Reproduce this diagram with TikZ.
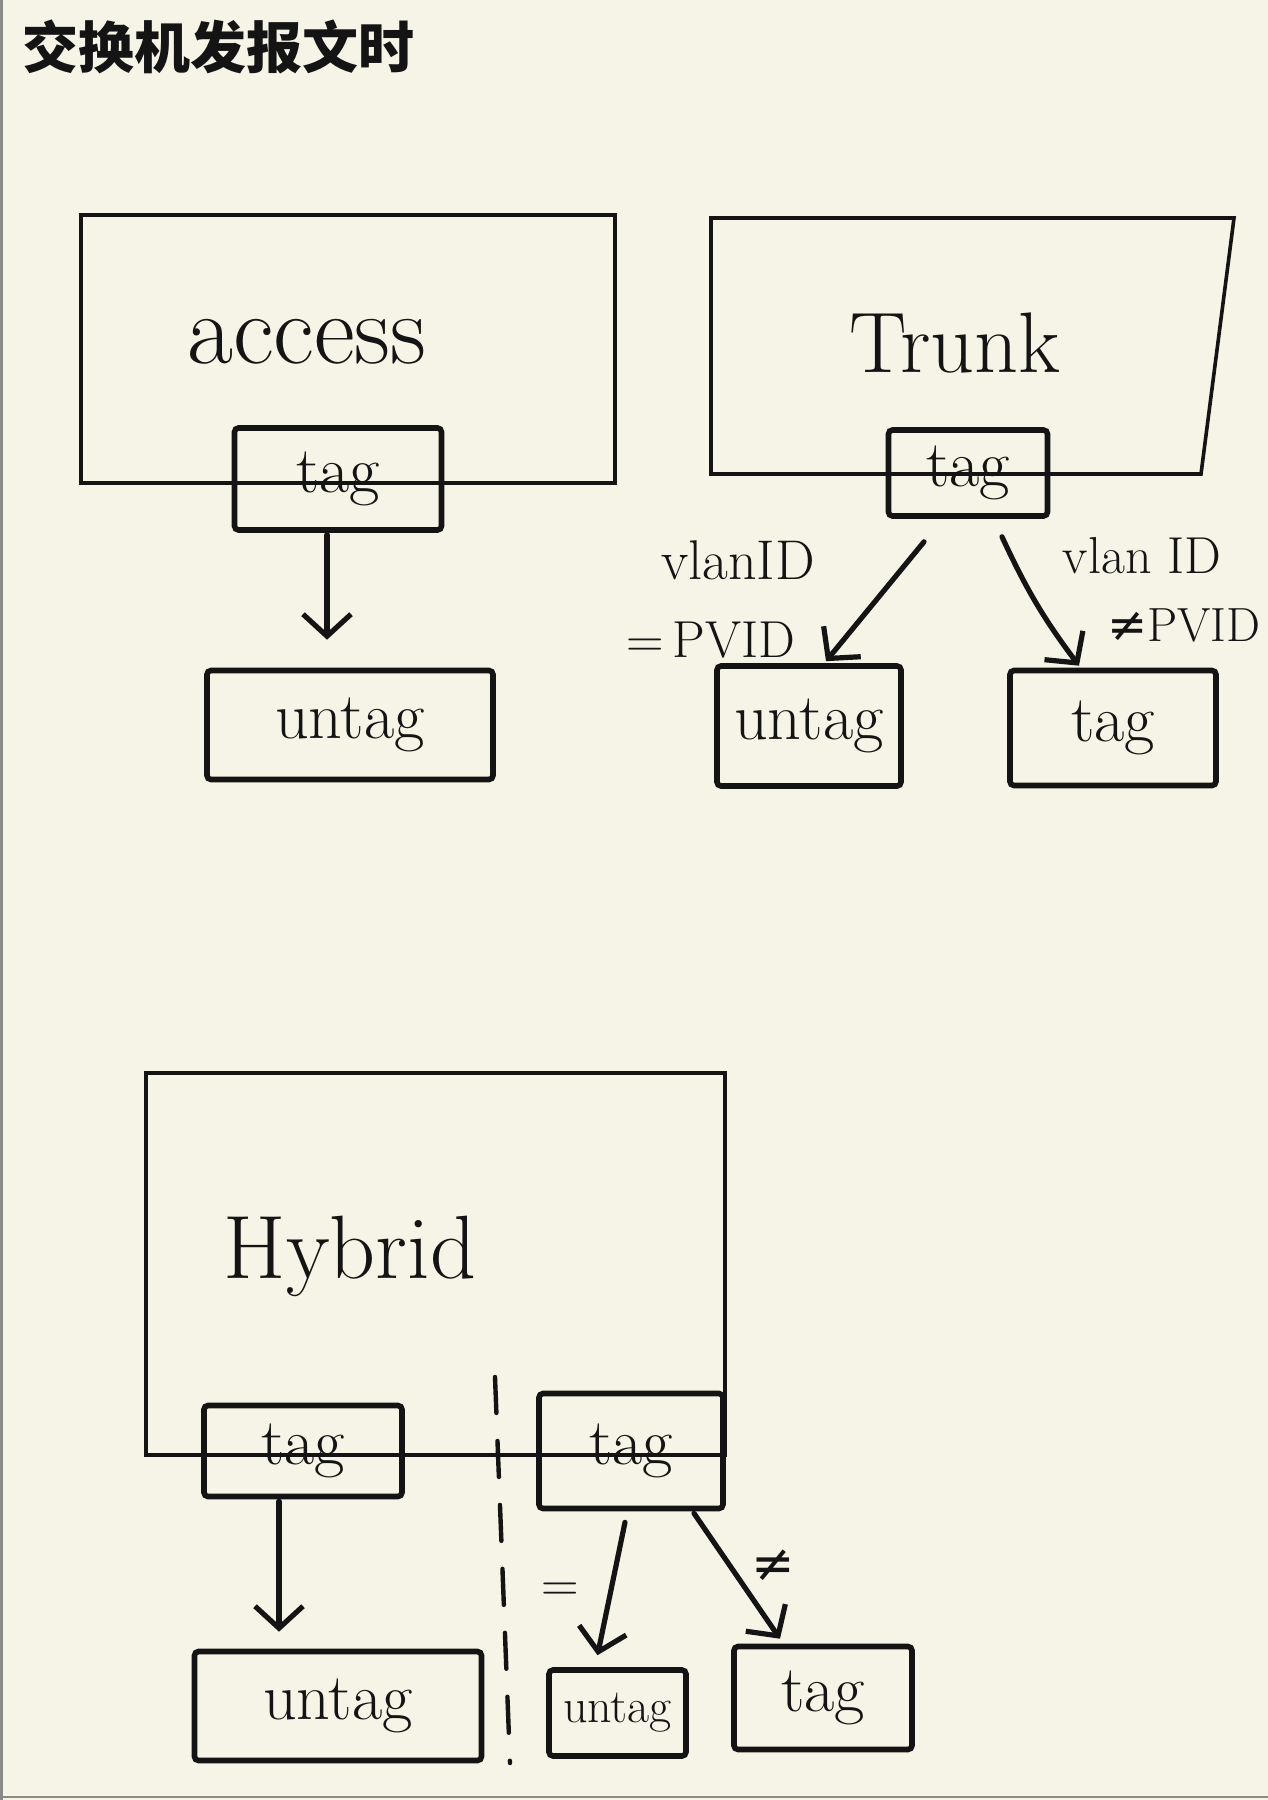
\documentclass[tikz,border=0pt]{standalone}
\usepackage{fontspec}
\newfontfamily\cjk{Noto Sans CJK SC}
\newfontfamily\symfnt{DejaVu Sans}
\usetikzlibrary{arrows.meta}
\definecolor{paper}{HTML}{F6F4E6}
\definecolor{ink}{HTML}{141414}
\definecolor{edge}{HTML}{8A8A86}
\tikzset{
  bigline/.style={draw=ink, line width=1.8pt, line join=miter},
  smallbox/.style={draw=ink, line width=2.8pt, inner sep=0pt, rounded corners=2pt},
  arr/.style={draw=ink, line width=2.6pt, line cap=round,
    -{Straight Barb[length=11pt,width=24pt,line width=2.6pt]}},
  bigtxt/.style={text=ink, font=\fontsize{46}{50}\selectfont},
  tagtxt/.style={text=ink, font=\fontsize{33}{36}\selectfont},
  lbltxt/.style={text=ink, font=\fontsize{26}{29}\selectfont},
}
\begin{document}
\begin{tikzpicture}[x=0.5pt, y=-0.5pt]
\useasboundingbox (0,0) rectangle (1268,1800);
\fill[paper] (0,0) rectangle (1268,1800);
\draw[edge, line width=1.5pt] (1,0) -- (1,1800);
\draw[edge, line width=1.2pt] (0,1797) -- (1268,1797);

% title
\node[anchor=west, text=ink, inner sep=0pt, font=\cjk\bfseries\fontsize{28}{31}\selectfont] (title) at (22,47) {交换机发报文时};

% ---------- Access ----------
\coordinate (acc1) at (81,215);
\coordinate (acc2) at (615,483);
\draw[bigline] (acc1) rectangle (acc2);
\node[bigtxt, font=\fontsize{50}{54}\selectfont] (acctxt) at (307,342) {access};
\node[smallbox, minimum width=103.5pt, minimum height=51pt, tagtxt] (tag1) at (338,479) {tag};
\node[smallbox, minimum width=143pt, minimum height=54.5pt, tagtxt] (untag1) at (350,725) {untag};
\draw[arr] ([xshift=-5.5pt, yshift=-1pt]tag1.south) -- ([xshift=-11.5pt, yshift=14pt]untag1.north);

% ---------- Trunk ----------
\coordinate (tr1) at (711,218);
\coordinate (tr2) at (1234,218);
\coordinate (tr3) at (1201,474);
\coordinate (tr4) at (711,474);
\draw[bigline] (tr1) -- (tr2) -- (tr3) -- (tr4) -- cycle;
\node[bigtxt, font=\fontsize{43}{46}\selectfont] (trtxt) at (955,343) {Trunk};
\node[smallbox, minimum width=79.5pt, minimum height=43pt, tagtxt] (tag2) at (968,473) {tag};
\node[smallbox, minimum width=92pt, minimum height=60pt, tagtxt] (untag2) at (809,726) {untag};
\node[smallbox, minimum width=103pt, minimum height=57.5pt, tagtxt] (tag3) at (1113,728) {tag};
\draw[arr] ([xshift=-22pt, yshift=-11.5pt]tag2.south) -- ([xshift=8.5pt, yshift=1pt]untag2.north);
\draw[arr] ([xshift=17pt, yshift=-9pt]tag2.south) to[bend right=6] ([xshift=-17pt, yshift=1pt]tag3.north);
\node[lbltxt, font=\fontsize{28}{31}\selectfont] (l1a) at (738,560) {vlanID};
\node[lbltxt] (l1b) at (711,640) {=\,PVID};
\node[lbltxt] (l2a) at (1142,556) {vlan ID};
\node[lbltxt, font=\fontsize{24}{27}\selectfont] (l2b) at (1184,625) {{\symfnt ≠}PVID};

% ---------- Hybrid ----------
\coordinate (hy1) at (146,1073);
\coordinate (hy2) at (725,1455);
\draw[bigline] (hy1) rectangle (hy2);
\node[bigtxt, font=\fontsize{45}{48}\selectfont] (hybtxt) at (350,1256) {Hybrid};
\node[smallbox, minimum width=99pt, minimum height=45.5pt, tagtxt] (tag4) at (303,1451) {tag};
\node[smallbox, minimum width=92pt, minimum height=57.5pt, tagtxt] (tag5) at (631,1451) {tag};
\node[smallbox, minimum width=143.5pt, minimum height=54.5pt, tagtxt] (untag4) at (338,1706) {untag};
\node[smallbox, minimum width=68.5pt, minimum height=43pt, text=ink, font=\fontsize{24}{26}\selectfont] (untag5) at (617.5,1713) {untag};
\node[smallbox, minimum width=89pt, minimum height=51.5pt, tagtxt] (tag6) at (823,1698) {tag};

\coordinate (divtop) at (495,1377);
\coordinate (divbot) at (510,1763);
\draw[ink, line width=2.2pt, line cap=round, dash pattern=on 18pt off 14pt] (divtop) -- (divbot);

\draw[arr] ([xshift=-12pt, yshift=-1pt]tag4.south) -- ([xshift=-29.5pt, yshift=8.5pt]untag4.north);
\draw[arr] ([xshift=-3pt, yshift=-5.5pt]tag5.south) -- ([xshift=-10pt, yshift=6pt]untag5.north);
\draw[arr] ([xshift=31.5pt, yshift=-1pt]tag5.south) -- ([xshift=-21.5pt, yshift=2.5pt]tag6.north);
\node[lbltxt] (eqlbl) at (560,1592) {=};
\node[lbltxt] (nelbl) at (773,1566) {\symfnt ≠};
\end{tikzpicture}
\end{document}
